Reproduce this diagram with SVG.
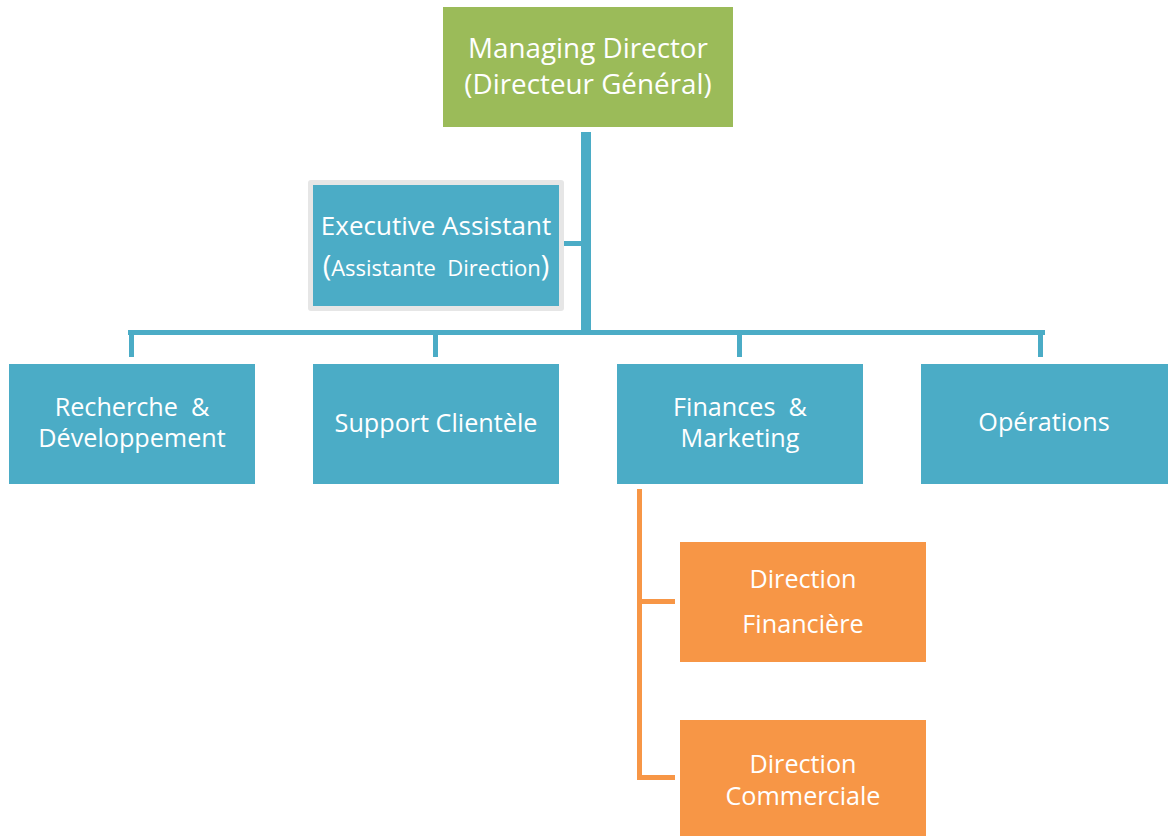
<svg xmlns="http://www.w3.org/2000/svg" width="1168" height="836" viewBox="0 0 1168 836">
<style>
text{font-family:"Open Sans","Noto Sans","DejaVu Sans",sans-serif;fill:#fff;text-anchor:middle;white-space:pre}
.blue{fill:#4BACC6}
.green{fill:#9BBB59}
.orange{fill:#F79646}
.lb{fill:#4BACC6}
.lo{fill:#F79646}
.t28{font-size:27.8px}
.t25{font-size:25.2px}
.t26{font-size:26px}
.t22{font-size:22px}
.paren{font-size:29px}
</style>
<rect width="1168" height="836" fill="#fff"/>
<g id="connectors">
<rect class="lb" x="581" y="132" width="10" height="201"/>
<rect class="lb" x="128" y="330" width="917" height="5"/>
<rect class="lb" x="129" y="330" width="5" height="27"/>
<rect class="lb" x="433" y="330" width="5" height="27"/>
<rect class="lb" x="737" y="330" width="5" height="27"/>
<rect class="lb" x="1038" y="330" width="5" height="27"/>
<rect class="lb" x="564" y="241" width="18" height="5"/>
<rect class="lo" x="637" y="489" width="5" height="291"/>
<rect class="lo" x="637" y="599" width="38" height="5"/>
<rect class="lo" x="637" y="775" width="38" height="5"/>
</g>
<g id="managing-director">
<rect class="green" x="443" y="7" width="290" height="120"/>
<text class="t28" x="588" y="58">Managing Director</text>
<text class="t28" x="588" y="94">(Directeur Général)</text>
</g>
<g id="executive-assistant">
<rect x="308" y="180" width="256" height="131" rx="3" fill="#E6E6E6"/>
<rect class="blue" x="313" y="185" width="246" height="121"/>
<text class="t26" x="436" y="235">Executive Assistant</text>
<text x="436" y="276"><tspan class="paren">(</tspan><tspan class="t22">Assistante  Direction</tspan><tspan class="paren">)</tspan></text>
</g>
<g id="recherche">
<rect class="blue" x="9" y="364" width="246" height="120"/>
<text class="t25" x="132" y="416">Recherche  &amp;</text>
<text class="t25" x="132" y="447">Développement</text>
</g>
<g id="support">
<rect class="blue" x="313" y="364" width="246" height="120"/>
<text class="t25" x="436" y="432">Support Clientèle</text>
</g>
<g id="finances">
<rect class="blue" x="617" y="364" width="246" height="120"/>
<text class="t25" x="740" y="416">Finances  &amp;</text>
<text class="t25" x="740" y="447">Marketing</text>
</g>
<g id="operations">
<rect class="blue" x="921" y="364" width="247" height="120"/>
<text class="t25" x="1044" y="431">Opérations</text>
</g>
<g id="direction-financiere">
<rect class="orange" x="680" y="542" width="246" height="120"/>
<text class="t25" x="803" y="588">Direction</text>
<text class="t25" x="803" y="633">Financière</text>
</g>
<g id="direction-commerciale">
<rect class="orange" x="680" y="720" width="246" height="116"/>
<text class="t25" x="803" y="773">Direction</text>
<text class="t25" x="803" y="805">Commerciale</text>
</g>
</svg>
